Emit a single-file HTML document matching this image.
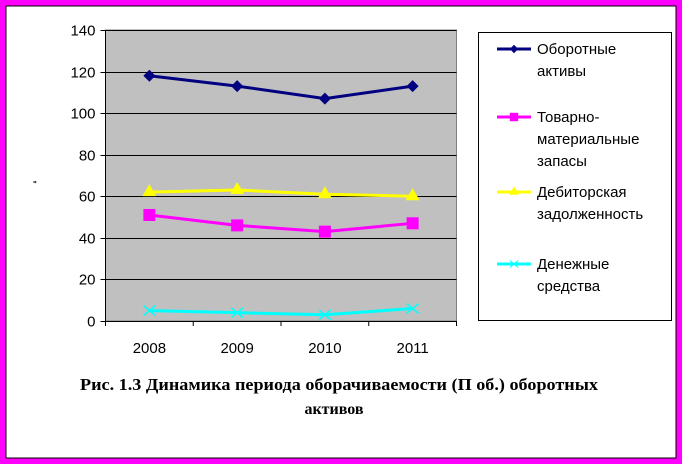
<!DOCTYPE html>
<html><head><meta charset="utf-8">
<style>
html,body{margin:0;padding:0;background:#fff;}
svg{display:block;}
</style></head>
<body>
<svg width="682" height="464" viewBox="0 0 682 464" xmlns="http://www.w3.org/2000/svg">
  <rect x="0" y="0" width="682" height="464" fill="#ff00ff"/>
  <rect x="6" y="6" width="670" height="452" fill="#fff" stroke="#000" stroke-width="1"/>
  <rect x="105.5" y="30" width="351" height="291" fill="#c0c0c0" stroke="#808080"/>
  <g id="grid"></g>
  <g id="axes"></g>
  <g id="series"></g>
  <text x="33" y="187" font-family="Liberation Sans, sans-serif" font-size="8" font-weight="bold">"</text>
  <rect x="478.5" y="32.5" width="193" height="288" fill="#fff" stroke="#000"/>
  <g id="legend" font-family="Liberation Sans, sans-serif" font-size="15" fill="#000"></g>
  <text x="80" y="390" textLength="518" lengthAdjust="spacingAndGlyphs" font-family="Liberation Serif, serif" font-size="17" font-weight="bold">Рис. 1.3 Динамика периода оборачиваемости (П об.) оборотных</text>
  <text x="334" y="414" text-anchor="middle" font-family="Liberation Serif, serif" font-size="16" font-weight="bold">активов</text>
</svg>
<script>
const categories = ["2008","2009","2010","2011"];
const yTicks = [0,20,40,60,80,100,120,140];
const seriesNames = ["Оборотные активы","Товарно-материальные запасы","Дебиторская задолженность","Денежные средства"];
const assets = [118,113,107,113];
const inventory = [51,46,43,47];
const receivables = [62,63,61,60];
const cash = [5,4,3,6];

const NS="http://www.w3.org/2000/svg";
const X0=105.5, X1=456.5, Y0=321, Y1=30, YMAX=140;
const band=(X1-X0)/categories.length;
const xs=i=>X0+band*(i+0.5);
const ys=v=>Y0-(v/YMAX)*(Y0-Y1);
function mk(tag,attrs,parent){const e=document.createElementNS(NS,tag);for(const k in attrs)e.setAttribute(k,attrs[k]);parent.appendChild(e);return e;}
const grid=document.getElementById('grid'), axes=document.getElementById('axes'), ser=document.getElementById('series'), leg=document.getElementById('legend');

yTicks.forEach(t=>{
  const y=Math.round(ys(t))+0.5;
  if(t>0){const l=mk('line',{x1:X0,x2:X1,y1:y,y2:y,stroke:'#000','stroke-width':1},grid);
  
  }
  mk('line',{x1:X0-5,x2:X0,y1:y,y2:y,stroke:'#000'},axes);
  const tx=mk('text',{x:X0-10,y:y+5,'text-anchor':'end','font-family':'Liberation Sans, sans-serif','font-size':15},axes);
  tx.textContent=t;
  
  
});
mk('line',{x1:X0,x2:X0,y1:Y1,y2:Y0+5,stroke:'#000'},axes);
mk('line',{x1:X0,x2:X1,y1:Y0+0.5,y2:Y0+0.5,stroke:'#000'},axes);
for(let i=0;i<=categories.length;i++){const x=X0+band*i;mk('line',{x1:x,x2:x,y1:Y0,y2:Y0+5,stroke:'#000'},axes);}
categories.forEach((c,i)=>{
  const tx=mk('text',{x:xs(i),y:353,'text-anchor':'middle','font-family':'Liberation Sans, sans-serif','font-size':15},axes);
  tx.textContent=c;
  
  
});

function marker(type,x,y,color,parent){
  let m;
  if(type==='diamond') m=mk('polygon',{points:`${x},${y-6} ${x+6},${y} ${x},${y+6} ${x-6},${y}`,fill:color},parent);
  else if(type==='square') m=mk('rect',{x:x-6,y:y-6,width:12,height:12,fill:color},parent);
  else if(type==='triangle') m=mk('polygon',{points:`${x},${y-8} ${x+7},${y+4} ${x-7},${y+4}`,fill:color},parent);
  else m=mk('path',{d:`M${x-6},${y-5}L${x+6},${y+5}M${x-6},${y+5}L${x+6},${y-5}`,stroke:color,'stroke-width':1.5,fill:'none'},parent);
  return m;
}
const defs=[
  {name:'assets',data:assets,color:'#000080',m:'diamond'},
  {name:'inventory',data:inventory,color:'#ff00ff',m:'square'},
  {name:'receivables',data:receivables,color:'#ffff00',m:'triangle'},
  {name:'cash',data:cash,color:'#00ffff',m:'x'}
];
defs.forEach(s=>{
  const g=mk('g',{},ser);
  
  
  const pl=mk('polyline',{points:s.data.map((v,i)=>xs(i)+','+ys(v)).join(' '),fill:'none',stroke:s.color,'stroke-width':3},g);
  
  
  s.data.forEach((v,i)=>{
    const m=marker(s.m,xs(i),ys(v),s.color,g);
    
    
  });
});

const legendLines=[["Оборотные","активы"],["Товарно-","материальные","запасы"],["Дебиторская","задолженность"],["Денежные","средства"]];
const legendY=[49,117,192,264];
defs.forEach((s,k)=>{
  const g=mk('g',{},leg);
  
  
  const y=legendY[k];
  mk('line',{x1:497,x2:531,y1:y,y2:y,stroke:s.color,'stroke-width':3},g);
  marker(s.m,514,y,s.color,g).setAttribute('transform',`translate(${514*0.3},${y*0.3}) scale(0.7)`);
  legendLines[k].forEach((t,j)=>{
    const tx=mk('text',{x:537,y:y+5+22*j},g);
    tx.textContent=t;
  });
});
</script>
</body></html>
